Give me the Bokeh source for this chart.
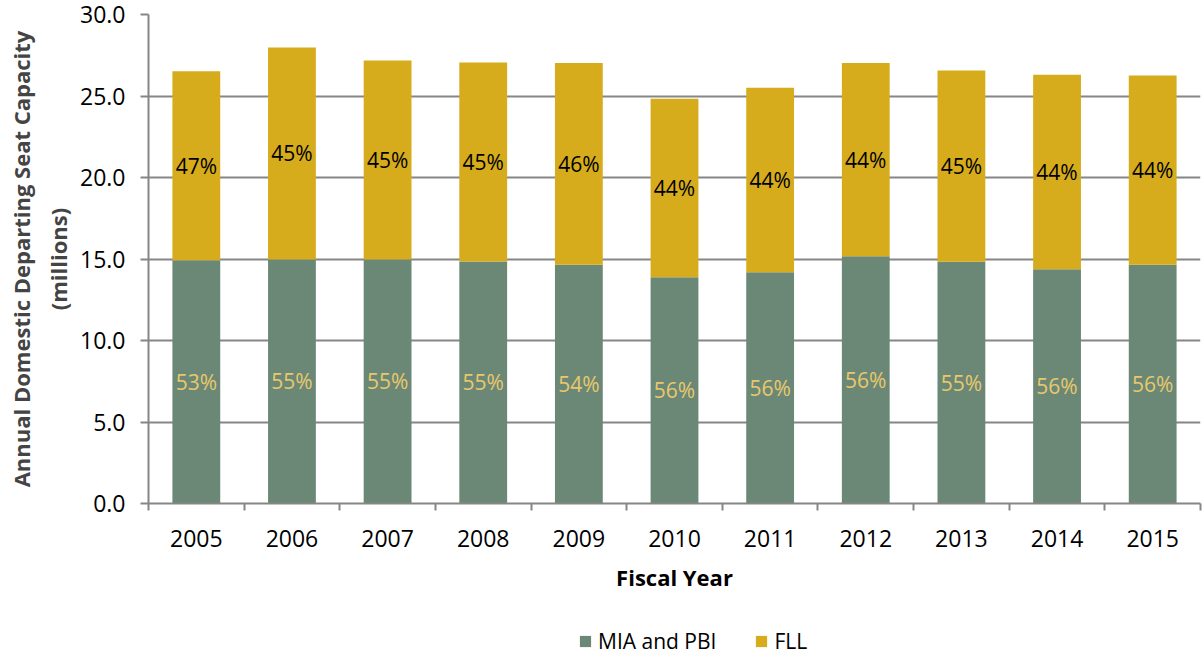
from bokeh.plotting import figure
from bokeh.layouts import column
from bokeh.models import (Range1d, FixedTicker, NumeralTickFormatter, Title, Legend,
                          LegendItem, ColumnDataSource)
from bokeh.core.properties import value
from bokeh.embed import file_html
from bokeh.resources import INLINE

# ---- data ----
years = ["2005", "2006", "2007", "2008", "2009", "2010", "2011", "2012", "2013", "2014", "2015"]
mia_pbi = [14.93, 14.97, 14.97, 14.85, 14.64, 13.88, 14.19, 15.17, 14.83, 14.37, 14.64]
fll = [11.59, 13.01, 12.21, 12.21, 12.39, 10.95, 11.31, 11.86, 11.73, 11.93, 11.62]
mia_pct = ["53%", "55%", "55%", "55%", "54%", "56%", "56%", "56%", "55%", "56%", "56%"]
fll_pct = ["47%", "45%", "45%", "45%", "46%", "44%", "44%", "44%", "45%", "44%", "44%"]
y_ticks = [0, 5, 10, 15, 20, 25, 30]
series_names = ["MIA and PBI", "FLL"]

GREEN = "#6B8877"
GOLD = "#D6AC1C"
GRID = "#868686"
FONT = "Open Sans"

xs = list(range(len(years)))
src = ColumnDataSource(dict(
    x=xs, mia=mia_pbi, fll=fll,
    mia_mid=[m / 2 for m in mia_pbi],
    fll_mid=[m + f / 2 for m, f in zip(mia_pbi, fll)],
    mia_pct=mia_pct, fll_pct=fll_pct,
))

p = figure(width=1203, height=605, output_backend="svg", toolbar_location=None,
           x_range=Range1d(-0.5, len(years) - 0.5), y_range=Range1d(0, 30),
           min_border_left=148, min_border_right=3, min_border_top=14,
           min_border_bottom=102)
p.title.visible = False
p.outline_line_color = None
p.background_fill_color = "white"
p.border_fill_color = "white"

rs = p.vbar_stack(["mia", "fll"], x="x", width=0.5, color=[GREEN, GOLD],
                  line_color=None, source=src)

p.text(x="x", y="mia_mid", text="mia_pct", source=src, text_font=value(FONT),
       text_font_size="21px", text_color="#E9C86B", text_align="center",
       text_baseline="middle")
p.text(x="x", y="fll_mid", text="fll_pct", source=src, text_font=value(FONT),
       text_font_size="21px", text_color="black", text_align="center",
       text_baseline="middle")

# x axis
xa = p.xaxis[0]
xa.ticker = FixedTicker(ticks=xs, minor_ticks=[i - 0.5 for i in range(len(years) + 1)])
xa.major_label_overrides = {i: y for i, y in enumerate(years)}
xa.major_tick_out = 0
xa.major_tick_in = 0
xa.minor_tick_out = 7
xa.minor_tick_in = 0
xa.minor_tick_line_color = GRID
xa.minor_tick_line_width = 2
xa.axis_line_color = GRID
xa.axis_line_width = 2
xa.major_label_standoff = 19
xa.major_label_text_font = FONT
xa.major_label_text_font_size = "23px"
xa.major_label_text_color = "black"
xa.axis_label = "Fiscal Year"
xa.axis_label_text_font = FONT
xa.axis_label_text_font_style = "bold"
xa.axis_label_text_font_size = "22px"
xa.axis_label_text_color = "black"
xa.axis_label_standoff = 12

# y axis
ya = p.yaxis[0]
ya.ticker = FixedTicker(ticks=y_ticks)
ya.formatter = NumeralTickFormatter(format="0.0")
ya.major_tick_out = 8
ya.major_tick_in = 0
ya.minor_tick_out = 0
ya.minor_tick_in = 0
ya.major_tick_line_color = GRID
ya.major_tick_line_width = 2
ya.axis_line_color = GRID
ya.axis_line_width = 2
ya.major_label_standoff = 15
ya.major_label_text_font = FONT
ya.major_label_text_font_size = "23px"
ya.major_label_text_color = "black"

p.xgrid.visible = False
p.ygrid.grid_line_color = GRID
p.ygrid.grid_line_width = 2

# y title (two lines)
p.add_layout(Title(text="(millions)", text_font=FONT, text_font_size="22px",
                   text_font_style="bold", align="center", standoff=10), "left")
p.add_layout(Title(text="Annual Domestic Departing Seat Capacity", text_font=FONT,
                   text_font_size="22px", text_font_style="bold", align="center",
                   standoff=0), "left")

# legend strip underneath (frame aligned with main plot frame)
lg = figure(width=1203, height=50, output_backend="svg", toolbar_location=None,
            x_axis_type=None, y_axis_type=None, min_border=0,
            x_range=Range1d(0, 1), y_range=Range1d(0, 1))
lg.title.visible = False
lg.outline_line_color = None
lg.xgrid.visible = False
lg.ygrid.visible = False
# zero-height swatch renderers, used only to draw the legend glyphs
r_mia = lg.vbar(x=[-5], top=[0], bottom=[0], width=0.5, color=GREEN, line_color=None)
r_fll = lg.vbar(x=[-5], top=[0], bottom=[0], width=0.5, color=GOLD, line_color=None)

legend = Legend(items=[LegendItem(label=series_names[0], renderers=[r_mia]),
                       LegendItem(label=series_names[1], renderers=[r_fll])],
                orientation="horizontal", location=(430, 0))
legend.glyph_width = 14
legend.glyph_height = 14
legend.label_standoff = 6
legend.spacing = 38
legend.padding = 0
legend.margin = 0
legend.border_line_color = None
legend.background_fill_alpha = 0
legend.label_text_font = FONT
legend.label_text_font_size = "21px"
legend.label_text_color = "black"
lg.add_layout(legend, "center")

layout = column(p, lg, spacing=0)
open("out.html", "w").write(file_html(layout, INLINE))
